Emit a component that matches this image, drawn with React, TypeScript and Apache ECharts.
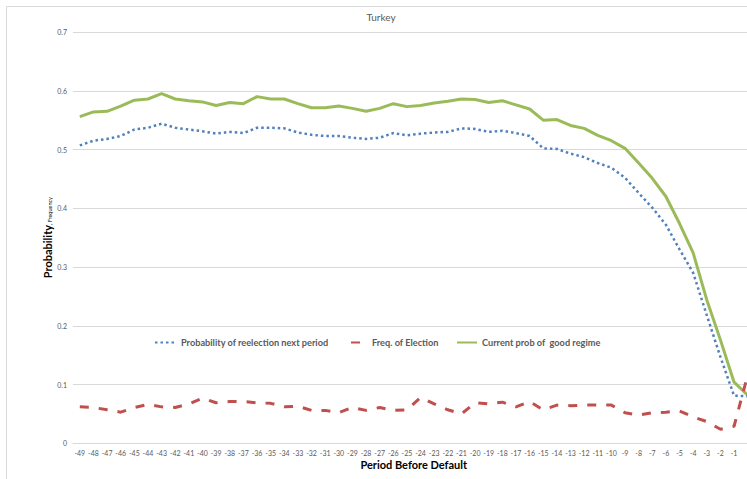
import React, { useEffect, useRef } from "react";
import * as echarts from "echarts";

// Periods before default, -49 … 0
const periods: string[] = [
  "-49", "-48", "-47", "-46", "-45", "-44", "-43", "-42", "-41", "-40",
  "-39", "-38", "-37", "-36", "-35", "-34", "-33", "-32", "-31", "-30",
  "-29", "-28", "-27", "-26", "-25", "-24", "-23", "-22", "-21", "-20",
  "-19", "-18", "-17", "-16", "-15", "-14", "-13", "-12", "-11", "-10",
  "-9", "-8", "-7", "-6", "-5", "-4", "-3", "-2", "-1", "0",
];

const reelectionProb: number[] = [
  0.507, 0.515, 0.518, 0.523, 0.534, 0.537, 0.544, 0.537, 0.534, 0.531,
  0.527, 0.530, 0.528, 0.537, 0.537, 0.536, 0.529, 0.525, 0.523, 0.523,
  0.520, 0.518, 0.520, 0.528, 0.524, 0.527, 0.529, 0.530, 0.536, 0.535,
  0.530, 0.532, 0.528, 0.523, 0.502, 0.501, 0.493, 0.487, 0.477, 0.469,
  0.452, 0.426, 0.401, 0.372, 0.330, 0.290, 0.218, 0.147, 0.081, 0.080,
];

const electionFreq: number[] = [
  0.062, 0.061, 0.057, 0.053, 0.061, 0.066, 0.062, 0.061, 0.067, 0.077,
  0.069, 0.071, 0.071, 0.069, 0.068, 0.062, 0.063, 0.056, 0.056, 0.052,
  0.061, 0.056, 0.061, 0.056, 0.057, 0.078, 0.067, 0.057, 0.050, 0.069,
  0.067, 0.070, 0.062, 0.071, 0.057, 0.065, 0.064, 0.065, 0.065, 0.065,
  0.052, 0.048, 0.052, 0.053, 0.055, 0.045, 0.037, 0.024, 0.029, 0.116,
];

const goodRegimeProb: number[] = [
  0.556, 0.564, 0.565, 0.574, 0.584, 0.586, 0.595, 0.586, 0.583, 0.581,
  0.575, 0.580, 0.578, 0.590, 0.586, 0.586, 0.578, 0.571, 0.571, 0.574,
  0.570, 0.565, 0.570, 0.578, 0.573, 0.575, 0.579, 0.582, 0.586, 0.585,
  0.580, 0.583, 0.576, 0.569, 0.550, 0.551, 0.541, 0.536, 0.524, 0.515,
  0.502, 0.477, 0.451, 0.420, 0.374, 0.324, 0.244, 0.176, 0.104, 0.082,
];

const SERIES_NAMES = [
  "Probability of reelection next period",
  "Freq. of Election",
  "Current prob of  good regime",
];

const FONT = "Lato, 'Liberation Sans', Arial, sans-serif";
const GRID_LINE = "#d9d9d9";
const TEXT_GREY = "#595959";

export default function App() {
  const ref = useRef<HTMLDivElement>(null);

  useEffect(() => {
    if (!ref.current) return;
    const chart = echarts.init(ref.current, undefined, { renderer: "svg" });

    const legendText = {
      fontFamily: FONT,
      fontSize: 9.2,
      fontWeight: "bold" as const,
      color: TEXT_GREY,
    };
    // legend shows the line only, without the default marker
    const hiddenMarker = {
      color: "rgba(0,0,0,0)",
      borderWidth: 0,
      opacity: 0,
    };

    chart.setOption({
      animation: false,
      backgroundColor: "#ffffff",
      textStyle: { fontFamily: FONT },
      graphic: [
        {
          type: "rect",
          z: -1,
          shape: { x: 6.5, y: 6.5, width: 760, height: 500 },
          style: { fill: "none", stroke: GRID_LINE, lineWidth: 1 },
        },
        {
          type: "text",
          x: 381,
          y: 17,
          style: {
            text: "Turkey",
            fontFamily: FONT,
            fontSize: 10,
            fill: TEXT_GREY,
            textAlign: "center",
            textVerticalAlign: "middle",
          },
        },
      ],
      legend: [
        {
          data: [SERIES_NAMES[0]],
          left: 154,
          top: 338,
          padding: 0,
          itemWidth: 21,
          itemHeight: 10,
          itemStyle: hiddenMarker,
          textStyle: legendText,
        },
        {
          data: [SERIES_NAMES[1]],
          left: 350,
          top: 338,
          padding: 0,
          itemWidth: 11,
          itemHeight: 10,
          itemStyle: hiddenMarker,
          textStyle: { ...legendText, padding: [0, 0, 0, 5] },
        },
        {
          data: [SERIES_NAMES[2]],
          left: 456,
          top: 338,
          padding: 0,
          itemWidth: 20,
          itemHeight: 10,
          itemStyle: hiddenMarker,
          textStyle: legendText,
        },
      ],
      grid: {
        left: 73,
        top: 32,
        width: 681.5,
        height: 411.3,
        containLabel: false,
      },
      xAxis: {
        type: "category",
        data: periods,
        boundaryGap: true,
        name: "Period Before Default",
        nameLocation: "middle",
        nameGap: 16,
        nameMoveOverlap: false,
        nameTextStyle: {
          fontFamily: FONT,
          fontSize: 11,
          fontWeight: "bold",
          color: "#000000",
        },
        axisLine: { lineStyle: { color: GRID_LINE, width: 1 } },
        axisTick: { show: false },
        axisLabel: {
          // the last period sits past the right edge of the frame
          interval: (index: number) => index < periods.length - 1,
          fontSize: 7,
          color: TEXT_GREY,
          margin: 6,
          fontFamily: FONT,
        },
      },
      yAxis: {
        type: "value",
        min: 0,
        max: 0.7,
        interval: 0.1,
        name: "{a|Probability}{b|, Frequency}",
        nameLocation: "middle",
        nameRotate: 90,
        nameGap: 20,
        nameMoveOverlap: false,
        nameTextStyle: {
          rich: {
            a: {
              fontFamily: FONT,
              fontSize: 11,
              fontWeight: "bold",
              color: "#000000",
              verticalAlign: "bottom",
            },
            b: {
              fontFamily: FONT,
              fontSize: 5.5,
              color: "#000000",
              verticalAlign: "bottom",
            },
          },
        },
        axisLine: { show: false },
        axisTick: { show: false },
        splitLine: { lineStyle: { color: GRID_LINE, width: 1 } },
        axisLabel: {
          fontSize: 7,
          color: TEXT_GREY,
          margin: 6,
          fontFamily: FONT,
        },
      },
      series: [
        {
          name: SERIES_NAMES[0],
          type: "line",
          data: reelectionProb,
          symbol: "none",
          z: 3,
          color: "#4f81bd",
          lineStyle: { color: "#4f81bd", width: 2.5, type: [2.5, 3] },
        },
        {
          name: SERIES_NAMES[1],
          type: "line",
          data: electionFreq,
          symbol: "none",
          z: 2,
          color: "#c0504d",
          lineStyle: { color: "#c0504d", width: 3, type: [9, 10] },
        },
        {
          name: SERIES_NAMES[2],
          type: "line",
          data: goodRegimeProb,
          symbol: "none",
          z: 1,
          color: "#9bbb59",
          lineStyle: { color: "#9bbb59", width: 3 },
        },
      ],
    });

    return () => chart.dispose();
  }, []);

  return (
    <div
      style={{
        position: "fixed",
        left: 0,
        top: 0,
        width: 747,
        height: 479,
        overflow: "hidden",
        background: "#ffffff",
      }}
    >
      <div ref={ref} style={{ width: 770, height: 479 }} />
    </div>
  );
}
